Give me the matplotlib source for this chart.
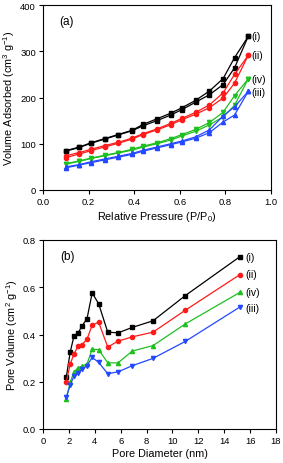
import matplotlib
matplotlib.use('Agg')
import matplotlib.pyplot as plt

plt.rcParams['font.family'] = ['Liberation Sans', 'DejaVu Sans']
plt.rcParams['mathtext.default'] = 'regular'

# (a) N2 isotherms
p_ads = [0.1, 0.16, 0.21, 0.27, 0.33, 0.39, 0.44, 0.5, 0.56, 0.61, 0.67, 0.73, 0.79, 0.84, 0.9]
p_des = p_ads[::-1]

ads_i = [84, 92, 101, 110, 119, 128, 139, 150, 162, 174, 190, 206, 228, 264, 332]
des_i = [332, 286, 241, 214, 194, 178, 166, 154, 142, 129, 120, 111, 102, 93, 85]
ads_ii = [70, 78, 85, 93, 101, 110, 120, 130, 141, 152, 164, 178, 199, 231, 291]
des_ii = [291, 250, 210, 184, 168, 155, 144, 132, 122, 112, 103, 96, 88, 81, 74]
ads_iv = [56, 62, 68, 74, 80, 86, 93, 100, 108, 117, 127, 141, 158, 183, 240]
des_iv = [240, 204, 168, 146, 131, 120, 111, 102, 95, 88, 81, 75, 69, 63, 57]
ads_iii = [48, 54, 59, 65, 71, 77, 84, 91, 98, 104, 112, 124, 147, 162, 213]
des_iii = [213, 180, 160, 130, 115, 106, 100, 93, 86, 79, 73, 67, 61, 55, 50]

# (b) pore size distribution
diam = [1.8, 2.1, 2.4, 2.7, 3.0, 3.4, 3.8, 4.3, 5.0, 5.8, 6.9, 8.5, 11.0, 15.2]
pv_i = [0.22, 0.325, 0.395, 0.405, 0.435, 0.467, 0.576, 0.53, 0.41, 0.407, 0.43, 0.458, 0.565, 0.729]
pv_ii = [0.20, 0.275, 0.318, 0.35, 0.356, 0.38, 0.44, 0.452, 0.347, 0.372, 0.39, 0.41, 0.503, 0.653]
pv_iv = [0.127, 0.198, 0.243, 0.258, 0.266, 0.275, 0.338, 0.336, 0.28, 0.28, 0.33, 0.353, 0.445, 0.578]
pv_iii = [0.134, 0.186, 0.225, 0.237, 0.252, 0.268, 0.303, 0.282, 0.234, 0.242, 0.268, 0.299, 0.371, 0.516]

black, red, green, blue = 'black', '#ff1a1a', '#1fbf1f', '#2448ff'

fig = plt.figure(figsize=(2.83, 4.64), dpi=100)
ax1 = fig.add_axes([43/283, 1-191/464, 228/283, 185/464])
ax2 = fig.add_axes([43/283, 1-430/464, 233/283, 189/464])

ms = 3.0
lw = 0.9
for a, d, c, m in [(ads_i, des_i, black, 's'), (ads_ii, des_ii, red, 'o'),
                   (ads_iv, des_iv, green, 'v'), (ads_iii, des_iii, blue, '^')]:
    ax1.plot(p_ads, a, color=c, marker=m, ms=ms, lw=lw)
    ax1.plot(p_des, d, color=c, marker=m, ms=ms, lw=lw)

ax1.set_xlim(0, 1.0)
ax1.set_ylim(0, 400)
ax1.set_xticks([0.0, 0.2, 0.4, 0.6, 0.8, 1.0])
ax1.set_yticks([0, 100, 200, 300, 400])
ax1.set_xlabel('Relative Pressure (P/P$_0$)', fontsize=7.8, labelpad=2)
ax1.set_ylabel('Volume Adsorbed (cm$^3$ g$^{-1}$)', fontsize=7.8, labelpad=2)
ax1.text(0.07, 358, '(a)', fontsize=8.5)
for lab, yv in [('(i)', 332), ('(ii)', 292), ('(iv)', 241), ('(iii)', 211)]:
    ax1.text(0.915, yv, lab, fontsize=7.5, va='center')

for v, c, m in [(pv_i, black, 's'), (pv_ii, red, 'o'), (pv_iv, green, '^'), (pv_iii, blue, 'v')]:
    ax2.plot(diam, v, color=c, marker=m, ms=ms, lw=lw)

ax2.set_xlim(0, 18)
ax2.set_ylim(0, 0.8)
ax2.set_xticks(range(0, 19, 2))
ax2.set_yticks([0.0, 0.2, 0.4, 0.6, 0.8])
ax2.set_xlabel('Pore Diameter (nm)', fontsize=7.8, labelpad=2)
ax2.set_ylabel('Pore Volume (cm$^2$ g$^{-1}$)', fontsize=7.8, labelpad=2)
ax2.text(1.3, 0.72, '(b)', fontsize=8.5)
for lab, yv in [('(i)', 0.729), ('(ii)', 0.656), ('(iv)', 0.58), ('(iii)', 0.512)]:
    ax2.text(15.6, yv, lab, fontsize=7.5, va='center')

for ax in (ax1, ax2):
    ax.tick_params(labelsize=6.8, length=3, width=0.8, pad=2)
    for s in ax.spines.values():
        s.set_linewidth(0.8)

fig.savefig('out.png', dpi=100)
